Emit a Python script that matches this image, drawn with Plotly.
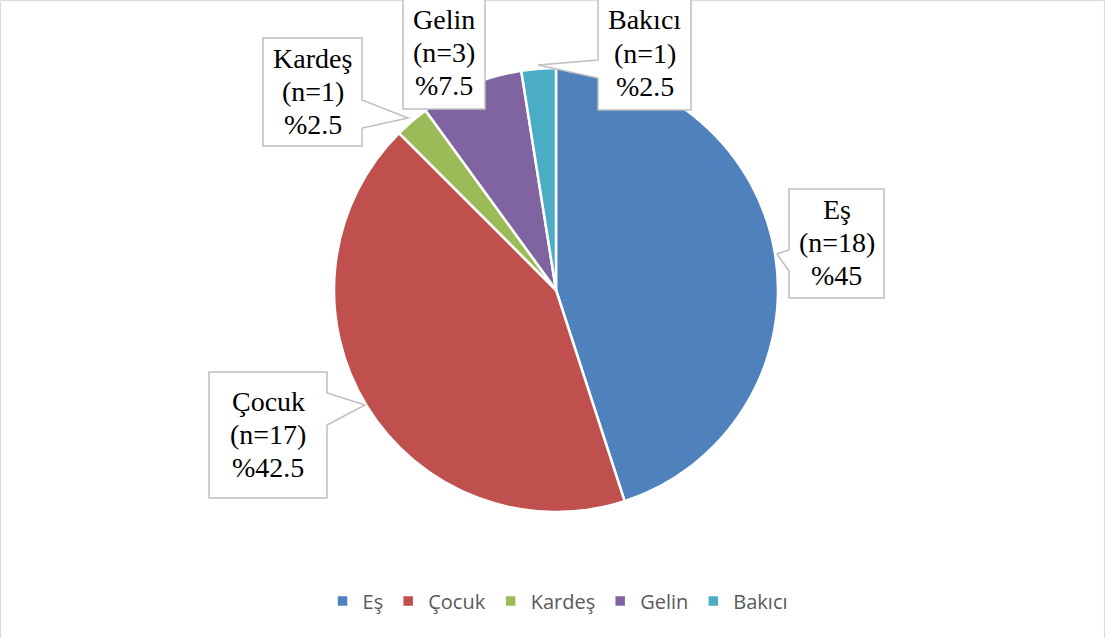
import plotly.graph_objects as go

W, H = 1105, 638

categories = ["Eş", "Çocuk", "Kardeş", "Gelin", "Bakıcı"]
counts = [18, 17, 1, 3, 1]
colors = ["#4F81BD", "#C0504D", "#9BBB59", "#8064A2", "#4BACC6"]

total = sum(counts)
percents = [c / total * 100 for c in counts]

# label box geometry (pixels): left, top, right, bottom, tail points
boxes = {
    "Eş":     dict(l=789, t=189, r=884, b=298, side="left", tail=[(789, 250), (777, 254), (789, 271)]),
    "Çocuk":  dict(l=209, t=372, r=327, b=498, side="right", tail=[(327, 393), (365, 405), (327, 425)]),
    "Kardeş": dict(l=263, t=38, r=362, b=146, side="right", tail=[(362, 100), (408, 118), (362, 128)]),
    "Gelin":  dict(l=403, t=-2, r=485, b=109, side=None, tail=None),
    "Bakıcı": dict(l=598, t=-2, r=691, b=110, side="left", tail=[(598, 60), (538, 65), (598, 78)]),
}


def px(x):
    return x / W


def py(y):
    return 1 - y / H


cx, cy, R = 556, 290, 222
LINE = 33

fig = go.Figure()
fig.add_trace(go.Pie(
    labels=categories,
    values=counts,
    sort=False,
    direction="clockwise",
    rotation=0,
    marker=dict(colors=colors, line=dict(color="white", width=2.5)),
    textinfo="none",
    hoverinfo="label+value+percent",
    domain=dict(x=[px(cx - R), px(cx + R)], y=[py(cy + R), py(cy - R)]),
))

shapes = []
annotations = []
for cat, n, p in zip(categories, counts, percents):
    b = boxes[cat]
    l, t, r, bt = b["l"], b["t"], b["r"], b["b"]
    if b["tail"] is None:
        pts = [(l, t), (r, t), (r, bt), (l, bt)]
    elif b["side"] == "left":
        p1, p2, p3 = b["tail"]
        pts = [(l, t), (r, t), (r, bt), (l, bt), p3, p2, p1]
    else:
        p1, p2, p3 = b["tail"]
        pts = [(l, t), (r, t), p1, p2, p3, (r, bt), (l, bt)]
    path = "M " + " L ".join(f"{px(x):.5f},{py(y):.5f}" for x, y in pts) + " Z"
    shapes.append(dict(type="path", xref="paper", yref="paper", path=path,
                       fillcolor="white", line=dict(color="#BFBFBF", width=1.5), layer="above"))
    lines = [cat, f"(n={n})", f"%{p:g}"]
    mid = (t + bt) / 2 - 1
    for i, txt in enumerate(lines):
        annotations.append(dict(
            x=px((l + r) / 2), y=py(mid + (i - 1) * LINE), xref="paper", yref="paper",
            text=txt, showarrow=False,
            xanchor="center", yanchor="middle", align="center",
            font=dict(family="Liberation Serif", size=28, color="black"),
        ))

# outer chart border
shapes.append(dict(type="rect", xref="paper", yref="paper", x0=0.0005, y0=-0.01, x1=0.9995, y1=0.999,
                   line=dict(color="#D9D9D9", width=1), fillcolor="rgba(0,0,0,0)", layer="below"))

fig.update_layout(
    width=W, height=H,
    margin=dict(l=0, r=0, t=0, b=0),
    paper_bgcolor="white",
    plot_bgcolor="white",
    showlegend=True,
    legend=dict(orientation="h", x=0.505, y=py(601), xanchor="center", yanchor="middle",
                font=dict(family="Open Sans", size=20, color="#595959"),
                traceorder="normal", itemclick=False),
    shapes=shapes,
    annotations=annotations,
)

fig.write_html("out.html", config={"displayModeBar": False},
               post_script="document.body.style.margin='0';document.body.style.overflow='hidden';")
